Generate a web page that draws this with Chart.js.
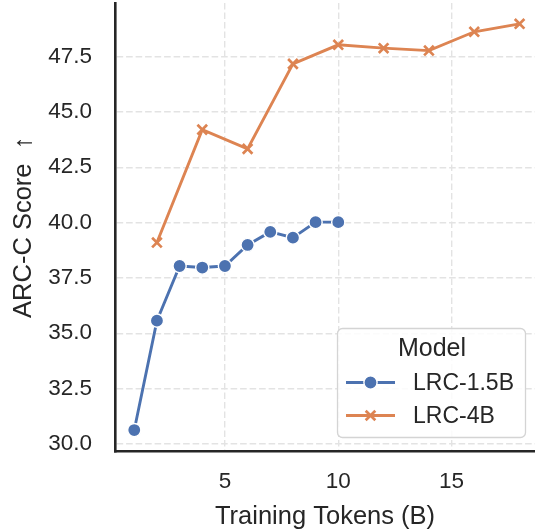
<!DOCTYPE html>
<html>
<head>
<meta charset="utf-8">
<script src="https://cdn.jsdelivr.net/npm/chart.js@4/dist/chart.umd.min.js"></script>
<style>
html, body { margin: 0; padding: 0; background: #ffffff; }
#wrap { width: 535px; height: 531px; }
</style>
</head>
<body>
<div id="wrap"><canvas id="c" width="535" height="531"></canvas></div>
<script>
// ---- data ----
const tokens15 = [1, 2, 3, 4, 5, 6, 7, 8, 9, 10];
const score15  = [30.63, 35.57, 38.04, 37.97, 38.04, 38.99, 39.58, 39.32, 40.02, 40.02];
const tokens4  = [2, 4, 6, 8, 10, 12, 14, 16, 18];
const score4   = [39.10, 44.20, 43.33, 47.17, 48.03, 47.88, 47.77, 48.62, 48.98];
const seriesNames = ['LRC-1.5B', 'LRC-4B'];
const xTicks = [5, 10, 15];
const yTicks = [30, 32.5, 35, 37.5, 40, 42.5, 45, 47.5];
const legendTitle = 'Model';
const xTitle = 'Training Tokens (B)';
const yTitle = 'ARC-C Score  \u2191';

// ---- style ----
const BLUE = '#4c72b0';
const ORANGE = '#dd8452';
const INK = '#262626';
const FONT = "'Liberation Sans', Arial, sans-serif";
const GRID = '#e3e3e3';

const toXY = (xs, ys) => xs.map((x, i) => ({ x: x, y: ys[i] }));

const legendPlugin = {
  id: 'insideLegend',
  afterDraw(chart) {
    const ctx = chart.ctx;
    const ds = chart.data.datasets;
    const bx = 337.5, by = 328.5, bw = 188, bh = 109, r = 5;
    ctx.save();
    ctx.beginPath();
    ctx.moveTo(bx + r, by);
    ctx.lineTo(bx + bw - r, by);
    ctx.arcTo(bx + bw, by, bx + bw, by + r, r);
    ctx.lineTo(bx + bw, by + bh - r);
    ctx.arcTo(bx + bw, by + bh, bx + bw - r, by + bh, r);
    ctx.lineTo(bx + r, by + bh);
    ctx.arcTo(bx, by + bh, bx, by + bh - r, r);
    ctx.lineTo(bx, by + r);
    ctx.arcTo(bx, by, bx + r, by, r);
    ctx.closePath();
    ctx.fillStyle = 'rgba(255,255,255,0.85)';
    ctx.fill();
    ctx.lineWidth = 1.3;
    ctx.strokeStyle = '#d4d4d4';
    ctx.stroke();

    ctx.fillStyle = INK;
    ctx.font = '25px ' + FONT;
    ctx.textAlign = 'center';
    ctx.textBaseline = 'middle';
    ctx.fillText(legendTitle, 432, 349);

    const rows = [382.5, 415.5];
    ds.forEach((d, i) => {
      const y = rows[i];
      ctx.strokeStyle = d.borderColor;
      ctx.lineWidth = d.borderWidth;
      ctx.lineCap = 'butt';
      ctx.beginPath();
      ctx.moveTo(346, y);
      ctx.lineTo(395, y);
      ctx.stroke();
      const cx = 370.5;
      if (d.pointStyle === 'circle') {
        ctx.beginPath();
        ctx.arc(cx, y, d.pointRadius, 0, Math.PI * 2);
        ctx.fillStyle = d.pointBackgroundColor;
        ctx.fill();
        ctx.lineWidth = d.pointBorderWidth;
        ctx.strokeStyle = d.pointBorderColor;
        ctx.stroke();
      } else {
        const o = d.pointRadius * Math.SQRT1_2;
        ctx.lineWidth = d.pointBorderWidth;
        ctx.strokeStyle = d.pointBorderColor;
        ctx.beginPath();
        ctx.moveTo(cx - o, y - o); ctx.lineTo(cx + o, y + o);
        ctx.moveTo(cx + o, y - o); ctx.lineTo(cx - o, y + o);
        ctx.stroke();
      }
      ctx.fillStyle = INK;
      ctx.font = '23px ' + FONT;
      ctx.textAlign = 'left';
      ctx.textBaseline = 'middle';
      ctx.fillText(d.label, 413, y + 1);
    });
    ctx.restore();
  }
};

new Chart(document.getElementById('c'), {
  type: 'line',
  data: {
    datasets: [
      {
        label: seriesNames[0],
        data: toXY(tokens15, score15),
        borderColor: BLUE,
        backgroundColor: BLUE,
        borderWidth: 2.9,
        pointStyle: 'circle',
        pointRadius: 6.6,
        pointBackgroundColor: BLUE,
        pointBorderColor: '#ffffff',
        pointBorderWidth: 1.4,
        tension: 0,
        fill: false
      },
      {
        label: seriesNames[1],
        data: toXY(tokens4, score4),
        borderColor: ORANGE,
        backgroundColor: ORANGE,
        borderWidth: 2.9,
        pointStyle: 'crossRot',
        pointRadius: 6.8,
        pointBackgroundColor: ORANGE,
        pointBorderColor: ORANGE,
        pointBorderWidth: 2.7,
        tension: 0,
        fill: false
      }
    ]
  },
  options: {
    responsive: false,
    animation: false,
    devicePixelRatio: 1,
    layout: { autoPadding: false, padding: { top: 3, right: 0, bottom: 0, left: 0 } },
    plugins: { legend: { display: false }, tooltip: { enabled: false } },
    scales: {
      x: {
        type: 'linear',
        min: 0.15,
        max: 18.68,
        afterBuildTicks: s => { s.ticks = xTicks.map(v => ({ value: v })); },
        afterFit: s => { s.height = 79.5; s.paddingLeft = 0; s.paddingRight = 0; },
        grid: { color: GRID, lineWidth: 1.4, drawTicks: false },
        border: { display: true, color: INK, width: 2.6, dash: [6.6, 2.9] },
        ticks: {
          padding: 16.5,
          color: INK,
          autoSkip: false,
          maxRotation: 0,
          font: { family: FONT, size: 22.5, lineHeight: 1.2 },
          callback: v => String(v)
        },
        title: {
          display: true,
          text: xTitle,
          color: INK,
          font: { family: FONT, size: 25.5, lineHeight: 1.1 },
          padding: { top: 0, bottom: 0 }
        }
      },
      y: {
        type: 'linear',
        min: 29.66,
        max: 49.92,
        afterBuildTicks: s => { s.ticks = yTicks.map(v => ({ value: v })); },
        afterFit: s => { s.width = 115; s.paddingTop = 0; s.paddingBottom = 0; },
        grid: { color: GRID, lineWidth: 1.4, drawTicks: false },
        border: { display: true, color: INK, width: 2.6, dash: [6.6, 2.9] },
        ticks: {
          padding: 23,
          color: INK,
          autoSkip: false,
          font: { family: FONT, size: 22.5, lineHeight: 1.2 },
          callback: v => Number(v).toFixed(1)
        },
        title: {
          display: true,
          text: yTitle,
          color: INK,
          font: { family: FONT, size: 25.5, lineHeight: 1.2 },
          padding: { top: 9, bottom: 0 }
        }
      }
    }
  },
  plugins: [legendPlugin]
});
</script>
</body>
</html>
